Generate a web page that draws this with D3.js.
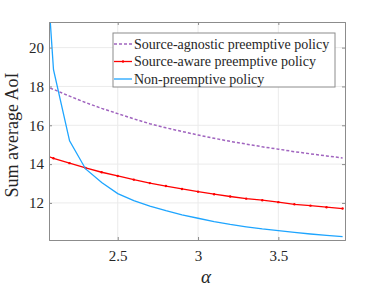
<!DOCTYPE html>
<html>
<head>
<meta charset="utf-8">
<script src="https://cdn.jsdelivr.net/npm/d3@7"></script>
<style>
  body { margin: 0; background: #fff; }
</style>
</head>
<body>
<div id="chart_area"></div>
<script>
// Data
var alpha = [2.05, 2.1, 2.2, 2.3, 2.4, 2.5, 2.6, 2.7, 2.8, 2.9, 3.0,
             3.1, 3.2, 3.3, 3.4, 3.5, 3.6, 3.7, 3.8, 3.9];
var agnostic = [18.0, 17.85, 17.5, 17.17, 16.87, 16.6, 16.33, 16.08, 15.87, 15.68, 15.5,
                15.33, 15.17, 15.03, 14.89, 14.77, 14.64, 14.53, 14.42, 14.32];
var aware = [14.45, 14.3, 14.05, 13.8, 13.58, 13.39, 13.2, 13.02, 12.87, 12.72, 12.58,
             12.45, 12.33, 12.22, 12.14, 12.04, 11.93, 11.86, 11.78, 11.71];
var nonPreempt = [25.0, 18.86, 15.2, 13.75, 13.05, 12.48, 12.12, 11.84, 11.6, 11.39, 11.21,
                  11.04, 10.89, 10.77, 10.66, 10.57, 10.48, 10.4, 10.33, 10.26];
var xTicks = [2.5, 3, 3.5];
var yTicks = [12, 14, 16, 18, 20];
var seriesNames = ["Source-agnostic preemptive policy", "Source-aware preemptive policy", "Non-preemptive policy"];

var margin = {top: 22, right: 37, bottom: 51, left: 49},
    width = 382 - margin.left - margin.right,
    height = 291 - margin.top - margin.bottom;

var serif = "'Liberation Serif', 'Times New Roman', 'DejaVu Serif', serif";

var x = d3.scaleLinear().domain([2.072, 3.915]).range([0, width]);
var y = d3.scaleLinear().domain([10.09, 21.32]).range([height, 0]);

var svg = d3.select("#chart_area").append("svg")
    .attr("width", 382)
    .attr("height", 291)
  .append("g")
    .attr("transform", "translate(" + margin.left + "," + margin.top + ")");

svg.append("defs").append("clipPath").attr("id", "clip")
  .append("rect").attr("width", width).attr("height", height);

// Grid
svg.selectAll(".gx").data(xTicks).enter().append("line")
    .attr("x1", function(d) { return x(d); }).attr("x2", function(d) { return x(d); })
    .attr("y1", 0).attr("y2", height)
    .attr("stroke", "#ebebeb");
svg.selectAll(".gy").data(yTicks).enter().append("line")
    .attr("y1", function(d) { return y(d); }).attr("y2", function(d) { return y(d); })
    .attr("x1", 0).attr("x2", width)
    .attr("stroke", "#ebebeb");

// Lines
var idx = d3.range(alpha.length);
function lineFor(vals) {
  return d3.line().x(function(i) { return x(alpha[i]); }).y(function(i) { return y(vals[i]); })(idx);
}
var plot = svg.append("g").attr("clip-path", "url(#clip)");

plot.append("path").attr("d", lineFor(agnostic))
    .attr("fill", "none").attr("stroke", "#a064bf").attr("stroke-width", 1.5)
    .attr("stroke-dasharray", "3,2");
plot.append("path").attr("d", lineFor(aware))
    .attr("fill", "none").attr("stroke", "#ff0000").attr("stroke-width", 1.3);
plot.selectAll(".mk").data(idx.slice(1)).enter().append("circle")
    .attr("cx", function(i) { return x(alpha[i]); })
    .attr("cy", function(i) { return y(aware[i]); })
    .attr("r", 1.2).attr("fill", "#ff0000");
plot.append("path").attr("d", lineFor(nonPreempt))
    .attr("fill", "none").attr("stroke", "#1ea5ff").attr("stroke-width", 1.3);

// Axes
svg.append("g")
    .attr("transform", "translate(0," + height + ")")
    .call(d3.axisBottom(x).tickValues(xTicks).tickSize(-3).tickPadding(10)
          .tickFormat(function(d) { return d; }));
svg.append("g")
    .call(d3.axisLeft(y).tickValues(yTicks).tickSize(-3).tickPadding(5));
svg.append("g").call(d3.axisTop(x).tickValues(xTicks).tickSize(-3).tickFormat(""));
svg.append("g").attr("transform", "translate(" + width + ",0)")
    .call(d3.axisRight(y).tickValues(yTicks).tickSize(-3).tickFormat(""));
svg.selectAll(".domain, .tick line").attr("stroke", "#8c8c8c");
svg.selectAll("g").attr("font-family", serif);
svg.selectAll(".tick text").attr("font-size", 15).attr("fill", "#262626");

// Axis labels
svg.append("text")
    .attr("transform", "translate(" + (-31) + "," + (height / 2 + 4) + ") rotate(-90)")
    .attr("text-anchor", "middle")
    .attr("font-family", serif)
    .attr("font-size", 18).attr("fill", "#262626")
    .text("Sum average AoI");
svg.append("text")
    .attr("x", width / 2 + 9).attr("y", height + 43)
    .attr("text-anchor", "middle")
    .attr("font-family", serif)
    .attr("font-size", 19).attr("font-style", "italic").attr("fill", "#262626")
    .text("\u03b1");

// Legend
var lg = svg.append("g").attr("transform", "translate(" + (113 - margin.left) + "," + (33 - margin.top) + ")");
lg.append("rect").attr("width", 222).attr("height", 54)
    .attr("fill", "#fff").attr("stroke", "#8c8c8c");
var lgColors = ["#a064bf", "#ff0000", "#1ea5ff"];
seriesNames.forEach(function(name, i) {
  var yy = 11 + i * 17.5;
  var l = lg.append("line").attr("x1", 1).attr("x2", 19).attr("y1", yy).attr("y2", yy)
      .attr("stroke", lgColors[i]).attr("stroke-width", i === 0 ? 1.5 : 1.3);
  if (i === 0) l.attr("stroke-dasharray", "3,2");
  if (i === 1) lg.append("circle").attr("cx", 10).attr("cy", yy).attr("r", 1.2).attr("fill", "#ff0000");
  lg.append("text").attr("x", 21).attr("y", yy + 4.5)
      .attr("font-family", serif)
      .attr("font-size", 14).attr("fill", "#262626").text(name);
});
</script>
</body>
</html>
